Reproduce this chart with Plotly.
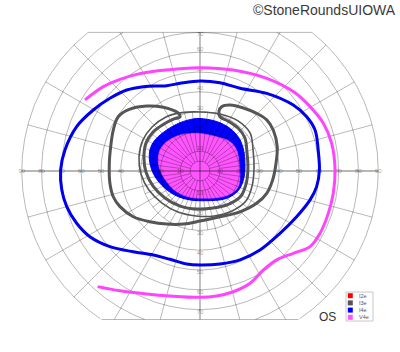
import numpy as np
import plotly.graph_objects as go

# ---------------- data (degrees of visual field, x = temporal/nasal, y = superior/inferior) -------------
v4e_line_x = [-58.1, -48.8, -40.4, -32.0, -20.2, -10.1, 0, 16.8, 33.7, 47.1, 55.6, 62.3, 66.5, 68.2, 67.3,
              64.8, 60.6, 55.6, 47.1, 38.7, 32.0, 25.3, 16.8, 8.4, 0, -15.2, -26.9, -40.4, -51.7]
v4e_line_y = [35.9, 42.6, 46.3, 48.8, 50.7, 51.7, 52.2, 51.0, 46.8, 40.1, 32.5, 24.1, 14.0, 0.5, -11.3,
              -21.4, -31.5, -38.2, -41.6, -44.9, -50.0, -56.7, -61.0, -63.1, -63.8, -63.1, -62.1, -60.5, -58.4]

i4e_line_x = [0, -10.1, -16.8, -28.6, -37.0, -45.5, -53.9, -62.3, -68.2, -70.4, -69.8, -67.3, -62.3, -55.6,
              -45.5, -33.7, -23.6, -15.2, -6.7, 0, 10.1, 20.2, 30.3, 40.4, 48.8, 55.6, 58.9, 60.3, 59.7,
              58.1, 53.9, 47.1, 33.7, 20.2, 10.1, 0]
i4e_line_y = [45.5, 44.3, 43.1, 42.6, 40.9, 36.7, 30.8, 22.4, 10.6, 0.5, -9.6, -18.0, -26.4, -33.2,
              -38.2, -40.8, -42.4, -44.6, -47.0, -47.5, -47.0, -44.9, -39.9, -31.5, -23.1, -14.6, -7.9, 0.2,
              10.6, 20.7, 27.4, 33.3, 39.2, 41.8, 44.6, 45.5]

i3e_line_x = [-10.1, -11.0, -13.1, -18.5, -26.9, -35.4, -41.3, -43.8, -45.1, -45.8, -45.5, -43.8, -40.4,
              -33.7, -25.3, -16.8, -8.4, 0, 10.1, 20.2, 28.6, 33.7, 36.7, 38.4, 39.0, 37.0, 33.7, 28.6,
              21.9, 15.2, 11.1, 9.6, 10.1, 14.1, 19.2, 22.7, 23.7, 24.2, 23.5, 20.7, 14.6, 6.6, -1.5,
              -10.1, -17.7, -23.7, -27.3, -28.3, -27.3, -23.7, -18.2, -13.1, -10.1]
i3e_line_y = [27.3, 29.3, 30.5, 32.2, 32.8, 31.2, 27.4, 20.7, 12.3, 3.9, -6.2, -13.0, -18.0,
              -23.1, -25.6, -26.8, -26.8, -25.3, -23.1, -20.6, -16.3, -11.3, -4.5, 3.9, 12.3, 20.7, 25.8, 29.1,
              31.8, 33.3, 32.6, 30.3, 27.4, 25.3, 21.7, 16.7, 9.6, 2.0, -5.6, -12.6, -16.7, -18.7, -19.2,
              -17.7, -13.6, -7.6, -0.5, 6.6, 14.1, 19.7, 23.7, 26.3, 27.3]

i3e_ring_x = [0, 10.1, 19.2, 25.3, 26.8, 27.3, 26.3, 23.2, 16.2, 7.1, -2.0, -11.1, -19.2, -25.8, -29.8,
              -30.8, -28.8, -24.2, -17.2, -9.1, 0]
i3e_ring_y = [29.8, 28.8, 25.3, 19.2, 10.6, 1.5, -7.6, -15.2, -20.2, -22.7, -22.7, -20.7, -16.2, -9.6, -1.5,
              7.1, 15.7, 22.2, 27.3, 29.5, 29.8]

i4e_fill_x = [0, 8.4, 15.2, 19.8, 22.0, 22.7, 22.3, 20.2, 16.8, 11.8, 3.4, -5.1, -11.8, -17.7, -22.7,
              -25.3, -25.3, -22.7, -16.8, -10.1, -3.4, 0]
i4e_fill_y = [26.5, 25.0, 21.5, 16.5, 10.6, 3.9, -2.9, -8.7, -12.1, -14.3, -15.0, -14.6, -12.6, -8.7, -2.9,
              3.9, 10.6, 15.7, 20.7, 24.4, 26.3, 26.5]

v4e_fill_x = [0, 8.4, 15.2, 18.5, 19.8, 20.2, 19.3, 16.0, 10.1, 3.4, -5.1, -11.8, -16.8, -20.2, -21.1,
              -20.2, -16.8, -10.1, -5.1, 0]
v4e_fill_y = [19.0, 17.3, 14.8, 10.6, 3.9, -2.9, -7.9, -11.3, -13.3, -13.8, -13.3, -10.5, -5.4, 0.5, 5.6,
              10.6, 14.8, 18.2, 19.0, 19.0]

legend_names = ["I2e", "I3e", "I4e", "V4e"]
legend_colors = ["#ff0000", "#555555", "#0000ff", "#ff55ff"]

ring_values = [10, 20, 30, 40, 50, 60, 70, 80, 90]
h_tick_labels = [str(v) for v in ring_values]
v_tick_values = [10, 20, 30, 40, 50, 60, 70]
top_limit = 70
bottom_limit = 75
outer_limit = 90

# ---------------- helpers -------------
def clip_pts(xs, ys):
    ox, oy = [], []
    for x, y in zip(xs, ys):
        if y > top_limit + 1e-9 or y < -bottom_limit - 1e-9:
            if ox and ox[-1] is not None:
                ox.append(None); oy.append(None)
        else:
            ox.append(x); oy.append(y)
    return ox, oy

gx, gy = [], []
th = np.radians(np.arange(0, 360.5, 0.5))
for r in [5] + ring_values:
    xs, ys = clip_pts(r * np.cos(th), r * np.sin(th))
    gx += xs + [None]; gy += ys + [None]

# clipping chords
for lim in (top_limit, -bottom_limit):
    half = np.sqrt(outer_limit ** 2 - lim ** 2)
    gx += [-half, half, None]; gy += [lim, lim, None]

def spoke(ang, r0, r1):
    a = np.radians(ang)
    s = np.sin(a)
    rmax = r1
    if s > 1e-9:
        rmax = min(r1, top_limit / s)
    elif s < -1e-9:
        rmax = min(r1, bottom_limit / -s)
    return [r0 * np.cos(a), rmax * np.cos(a), None], [r0 * np.sin(a), rmax * np.sin(a), None]

for k in range(24):
    ang = k * 15
    if ang % 90 == 0:
        continue
    sx, sy = spoke(ang, 5, outer_limit)
    gx += sx; gy += sy
for k in range(24):
    sx, sy = spoke(7.5 + k * 15, 10, 30)
    gx += sx; gy += sy

fig = go.Figure()

# fills
fig.add_trace(go.Scatter(x=i4e_fill_x, y=i4e_fill_y, mode="lines", fill="toself", fillcolor="#0000ff",
                         line=dict(color="#0000ff", width=1, shape="spline"), hoverinfo="skip"))
fig.add_trace(go.Scatter(x=v4e_fill_x, y=v4e_fill_y, mode="lines", fill="toself", fillcolor="#ff55ff",
                         line=dict(color="#ff55ff", width=0.5, shape="spline"), hoverinfo="skip"))

# grid
fig.add_trace(go.Scatter(x=gx, y=gy, mode="lines", line=dict(color="rgba(0,0,0,0.28)", width=1),
                         hoverinfo="skip"))
# main axes
fig.add_trace(go.Scatter(x=[-outer_limit, outer_limit, None, 0, 0], y=[0, 0, None, top_limit, -bottom_limit],
                         mode="lines", line=dict(color="rgba(0,0,0,0.38)", width=1.3), hoverinfo="skip"))

# tick labels
lx = [-v for v in ring_values] + ring_values + [0] * len(v_tick_values) * 2
ly = [0] * len(ring_values) * 2 + [min(v + 1.5, 69) for v in v_tick_values] + [-(v + 1.5) for v in v_tick_values]
lt = h_tick_labels + h_tick_labels + [str(v) for v in v_tick_values] * 2
fig.add_trace(go.Scatter(x=lx, y=ly, mode="text", text=lt,
                         textfont=dict(size=6, color="rgba(0,0,0,0.4)", family="Liberation Sans"),
                         hoverinfo="skip"))

# isopter lines
fig.add_trace(go.Scatter(x=i3e_ring_x, y=i3e_ring_y, mode="lines",
                         line=dict(color="#555555", width=1.6, shape="spline"), hoverinfo="skip"))
fig.add_trace(go.Scatter(x=i3e_line_x, y=i3e_line_y, mode="lines",
                         line=dict(color="#555555", width=3, shape="spline"), hoverinfo="skip"))
fig.add_trace(go.Scatter(x=i4e_line_x, y=i4e_line_y, mode="lines",
                         line=dict(color="#0000ee", width=3, shape="spline"), hoverinfo="skip"))
fig.add_trace(go.Scatter(x=v4e_line_x, y=v4e_line_y, mode="lines",
                         line=dict(color="#ff44ff", width=3, shape="spline"), hoverinfo="skip"))

W, H = 400, 352
scale = 1.98
cx, cy = 200, 171

shapes = []
annotations = []
# legend box
shapes.append(dict(type="rect", xref="paper", yref="paper", x0=346 / W, x1=373 / W,
                   y0=1 - 321 / H, y1=1 - 292 / H, line=dict(color="#c8c8c8", width=1), fillcolor="white"))
for i, (nm, col) in enumerate(zip(legend_names, legend_colors)):
    yc = 295.7 + i * 7.2
    shapes.append(dict(type="rect", xref="paper", yref="paper", x0=347.8 / W, x1=352.8 / W,
                       y0=1 - (yc + 2.5) / H, y1=1 - (yc - 2.5) / H, line=dict(width=0), fillcolor=col))
    annotations.append(dict(text=nm, xref="paper", yref="paper", x=357 / W, y=1 - yc / H,
                            xanchor="left", yanchor="middle", showarrow=False,
                            font=dict(size=5.5, color="#555555", family="Liberation Sans")))

annotations.append(dict(text="OS", xref="paper", yref="paper", x=327 / W, y=1 - 317 / H,
                        xanchor="center", yanchor="middle", showarrow=False,
                        font=dict(size=12, color="#333333", family="Liberation Sans")))
annotations.append(dict(text="©StoneRoundsUIOWA", xref="paper", yref="paper", x=398 / W, y=1 - 10 / H,
                        xanchor="right", yanchor="middle", showarrow=False,
                        font=dict(size=14, color="#3a3a3a", family="Liberation Sans")))

fig.update_layout(
    width=W, height=H, autosize=False,
    margin=dict(l=0, r=0, t=0, b=0, pad=0),
    paper_bgcolor="white", plot_bgcolor="white",
    showlegend=False,
    xaxis=dict(range=[-cx / scale, (W - cx) / scale], visible=False, fixedrange=True),
    yaxis=dict(range=[-(H - cy) / scale, cy / scale], visible=False, fixedrange=True),
    shapes=shapes, annotations=annotations,
)

fig.write_html("out.html", config={"displayModeBar": False})
